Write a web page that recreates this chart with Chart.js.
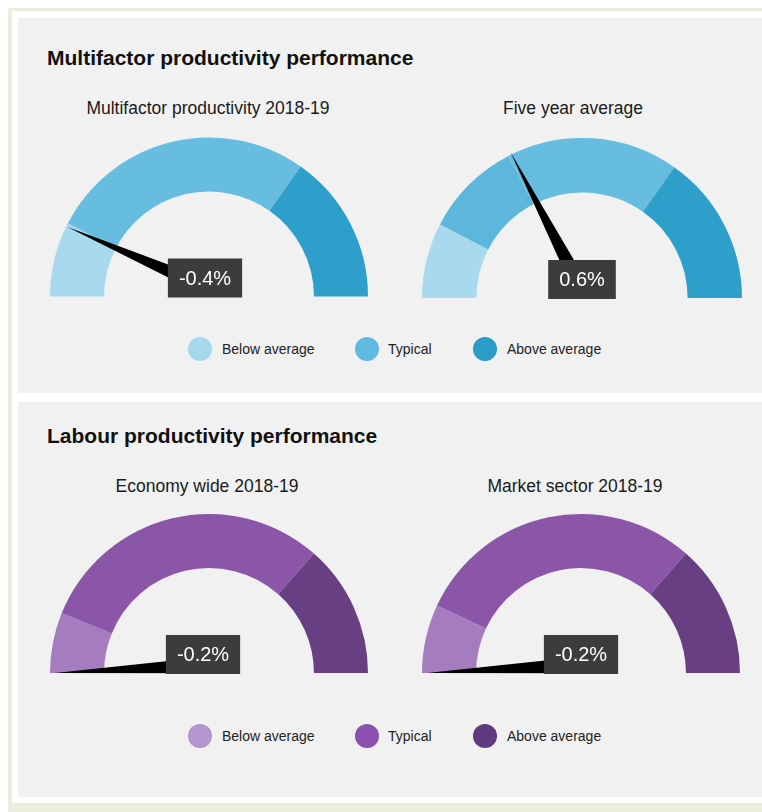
<!DOCTYPE html>
<html>
<head>
<meta charset="utf-8">
<script src="https://cdn.jsdelivr.net/npm/chart.js@4.4.1/dist/chart.umd.min.js"></script>
<style>
  html, body { margin:0; padding:0; }
  body { width:762px; height:812px; overflow:hidden; position:relative; background:#fff;
         font-family:"Liberation Sans", Arial, sans-serif; color:#1a1a1a; }
  .abs { position:absolute; }
  .panel { position:absolute; left:18px; width:760px; background:#f1f1f1; }
  .ptitle { position:absolute; left:47px; font-weight:bold; font-size:21px; line-height:21px; color:#111; white-space:nowrap; }
  .gtitle { position:absolute; width:300px; text-align:center; font-size:17.5px; line-height:17.5px; color:#1a1a1a; white-space:nowrap; }
  .lgdot { position:absolute; width:24px; height:24px; border-radius:50%; }
  .lgtxt { position:absolute; font-size:14px; line-height:24px; height:24px; color:#222; white-space:nowrap; }
  canvas { position:absolute; }
</style>
</head>
<body>
<div class="abs" style="left:8px;top:8px;width:800px;height:820px;background:#eaeedc"></div>
<div class="abs" style="left:12px;top:11px;width:800px;height:792px;background:#ffffff"></div>
<div class="panel" style="top:18px;height:375px"></div>
<div class="panel" style="top:402px;height:395px"></div>

<div class="ptitle" id="pt0" style="top:47px"></div>
<div class="ptitle" id="pt1" style="top:425px"></div>

<div class="gtitle" id="gt0" style="left:58px;top:100px"></div>
<div class="gtitle" id="gt1" style="left:423px;top:100px"></div>
<div class="gtitle" id="gt2" style="left:57px;top:478px"></div>
<div class="gtitle" id="gt3" style="left:425px;top:478px"></div>

<canvas id="c0" width="358" height="180" style="left:30px;top:127px;width:358px;height:180px"></canvas>
<canvas id="c1" width="360" height="180" style="left:402px;top:128px;width:360px;height:180px"></canvas>
<canvas id="c2" width="358" height="180" style="left:30px;top:504px;width:358px;height:180px"></canvas>
<canvas id="c3" width="358" height="180" style="left:402px;top:504px;width:358px;height:180px"></canvas>

<div id="legend0"></div>
<div id="legend1"></div>

<script>
// ---------- DATA ----------
const panelTitles = ['Multifactor productivity performance', 'Labour productivity performance'];
const gaugeTitles = ['Multifactor productivity 2018-19', 'Five year average', 'Economy wide 2018-19', 'Market sector 2018-19'];
const bandLabels = ['Below average', 'Typical', 'Above average'];

// gauge scale (min, max) per gauge
const scaleMin = [-1.0, -1.0, -0.1, -0.1];
const scaleMax = [3.6, 3.6, 6.0, 6.0];
// band boundaries: below/typical, typical/above
const lowerBound = [-0.3, -0.3, 0.65, 0.75];
const upperBound = [2.2, 2.2, 4.35, 4.35];
// needle values (%)
const gaugeValues = [-0.4, 0.6, -0.2, -0.2];
const valueLabels = ['-0.4%', '0.6%', '-0.2%', '-0.2%'];

const blueColors = ['#a9d9ee', '#67bde0', '#2e9fca'];
const blueShade = '#5db6db';
const blueLegend = ['#a6d8ed', '#60badf', '#2a9cc8'];
const purpleColors = ['#a47cbf', '#8b56a8', '#683f82'];
const purpleShade = '#8350a0';
const purpleLegend = ['#b396cd', '#8c50ae', '#603a81'];

// ---------- TEXT ----------
document.getElementById('pt0').textContent = panelTitles[0];
document.getElementById('pt1').textContent = panelTitles[1];
gaugeTitles.forEach((t, i) => document.getElementById('gt' + i).textContent = t);

function buildLegend(id, colors, y) {
  const el = document.getElementById(id);
  const dotX = [200, 367, 485];
  const txtX = [222, 388, 507];
  bandLabels.forEach((lab, i) => {
    const d = document.createElement('div');
    d.className = 'lgdot';
    d.style.left = (dotX[i] - 12) + 'px';
    d.style.top = (y - 12) + 'px';
    d.style.background = colors[i];
    el.appendChild(d);
    const t = document.createElement('div');
    t.className = 'lgtxt';
    t.style.left = txtX[i] + 'px';
    t.style.top = (y - 12) + 'px';
    t.textContent = lab;
    el.appendChild(t);
  });
}
buildLegend('legend0', blueLegend, 349);
buildLegend('legend1', purpleLegend, 736);

// ---------- CHARTS ----------
const gaugePlugin = {
  id: 'gaugeNeedle',
  afterDatasetsDraw(chart) {
    const g = chart.options.plugins.gaugeNeedle;
    const arc = chart.getDatasetMeta(0).data[0];
    if (!arc) return;
    const cx = arc.x, cy = arc.y, R = arc.outerRadius;
    const frac = (g.value - g.min) / (g.max - g.min);
    const ang = Math.PI + frac * Math.PI;
    const px = cx, py = cy - R * 0.05;
    const len = R * 0.97, hw = R * 0.052;
    const tx = px + len * Math.cos(ang), ty = py + len * Math.sin(ang);
    const ox = -Math.sin(ang) * hw, oy = Math.cos(ang) * hw;
    const ctx = chart.ctx;
    ctx.save();
    ctx.fillStyle = '#000';
    ctx.beginPath();
    ctx.moveTo(px + ox, py + oy);
    ctx.lineTo(tx, ty);
    ctx.lineTo(px - ox, py - oy);
    ctx.closePath();
    ctx.fill();
    // value box
    ctx.font = '20px "Liberation Sans", Arial, sans-serif';
    const tw = ctx.measureText(g.label).width;
    const bw = tw + 22, bh = 39;
    const bx = cx + g.boxShift;
    ctx.fillStyle = '#3c3c3c';
    ctx.fillRect(bx - bw / 2, cy + 1 - bh, bw, bh);
    ctx.fillStyle = '#ffffff';
    ctx.textAlign = 'center';
    ctx.textBaseline = 'middle';
    ctx.fillText(g.label, bx, cy + 1 - bh / 2 + 1);
    ctx.restore();
  }
};

function makeGauge(i, colors, shade, pad, boxShift) {
  const min = scaleMin[i], max = scaleMax[i];
  const lo = lowerBound[i], hi = upperBound[i], v = gaugeValues[i];
  let data, bg;
  if (v > lo && v < hi) {
    data = [lo - min, v - lo, hi - v, max - hi];
    bg = [colors[0], shade, colors[1], colors[2]];
  } else {
    data = [lo - min, hi - lo, max - hi];
    bg = [colors[0], colors[1], colors[2]];
  }
  new Chart(document.getElementById('c' + i), {
    type: 'doughnut',
    data: { labels: data.map((_, k) => 'band' + k), datasets: [{ data: data, backgroundColor: bg, borderWidth: 0, hoverOffset: 0 }] },
    options: {
      responsive: false,
      animation: false,
      rotation: -90,
      circumference: 180,
      cutout: '66%',
      layout: { padding: pad },
      events: [],
      plugins: {
        legend: { display: false },
        tooltip: { enabled: false },
        title: { display: false },
        gaugeNeedle: { value: v, min: min, max: max, label: valueLabels[i], boxShift: boxShift }
      }
    },
    plugins: [gaugePlugin]
  });
}

makeGauge(0, blueColors, blueShade, { left: 20, right: 20, top: 10, bottom: 10 }, -4);
makeGauge(1, blueColors, blueShade, { left: 20, right: 20, top: 10, bottom: 10 }, 0);
makeGauge(2, purpleColors, purpleShade, { left: 20, right: 20, top: 10, bottom: 11 }, -6);
makeGauge(3, purpleColors, purpleShade, { left: 20, right: 20, top: 10, bottom: 11 }, 0);
</script>
</body>
</html>
